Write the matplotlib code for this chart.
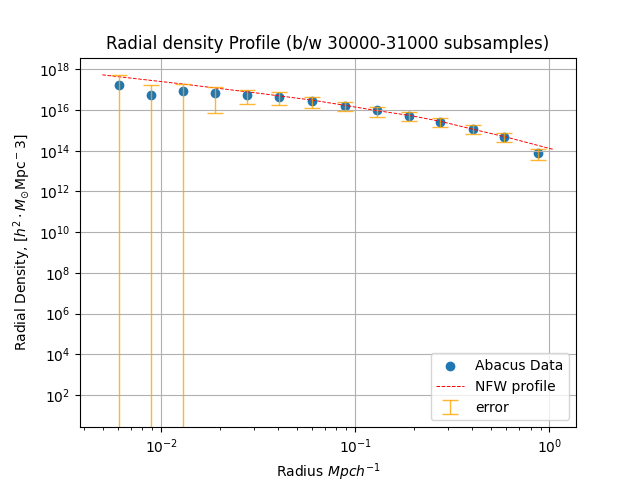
import numpy as np
import matplotlib
matplotlib.use("Agg")
import matplotlib.pyplot as plt

# Binned radial density from the Abacus subsamples
radius = [0.0061, 0.00888, 0.0130, 0.0190, 0.0277, 0.0406, 0.0600,
          0.0881, 0.1288, 0.1883, 0.274, 0.403, 0.586, 0.871]
density = [1.8e17, 5.5e16, 8.6e16, 7.0e16, 5.7e16, 4.6e16, 2.7e16,
           1.65e16, 9.7e15, 5.35e15, 2.65e15, 1.22e15, 5.0e14, 7.6e13]
density_err = [3.8e17, 1.15e17, 9.6e16, 6.3e16, 3.7e16, 2.8e16, 1.5e16,
               7.5e15, 5.3e15, 2.55e15, 1.25e15, 5.8e14, 2.4e14, 4.1e13]

# NFW fit curve
nfw_r = [0.00498, 0.01298, 0.03238, 0.0598, 0.0870, 0.1293, 0.1921,
         0.2742, 0.4073, 0.6053, 1.045]
nfw_rho = [5.4e17, 1.9e17, 6.6e16, 3.1e16, 1.76e16, 9.4e15, 5.4e15,
           2.8e15, 1.12e15, 4.6e14, 1.17e14]

fig, ax = plt.subplots(figsize=(6.4, 4.8), dpi=100)

ax.scatter(radius, density, label="Abacus Data")
ax.plot(nfw_r, nfw_rho, "r--", lw=0.7, label="NFW profile")
ax.errorbar(radius, density, yerr=density_err, fmt="none", ecolor="orange",
            elinewidth=1, capsize=6, alpha=0.8, label="error")

ax.set_xscale("log")
ax.set_yscale("log")
ax.set_xlim(0.00382, 1.37)
ax.set_ylim(2.6, 3.8e18)
ax.grid(True)

ax.set_title("Radial density Profile (b/w 30000-31000 subsamples)")
ax.set_xlabel(r"Radius $Mpch^{-1}$")
ax.set_ylabel(r"Radial Density, $[h^2 \cdot M_{\odot} \mathrm{Mpc}^-3]$")
ax.legend(loc="lower right")

fig.savefig("out.png")
